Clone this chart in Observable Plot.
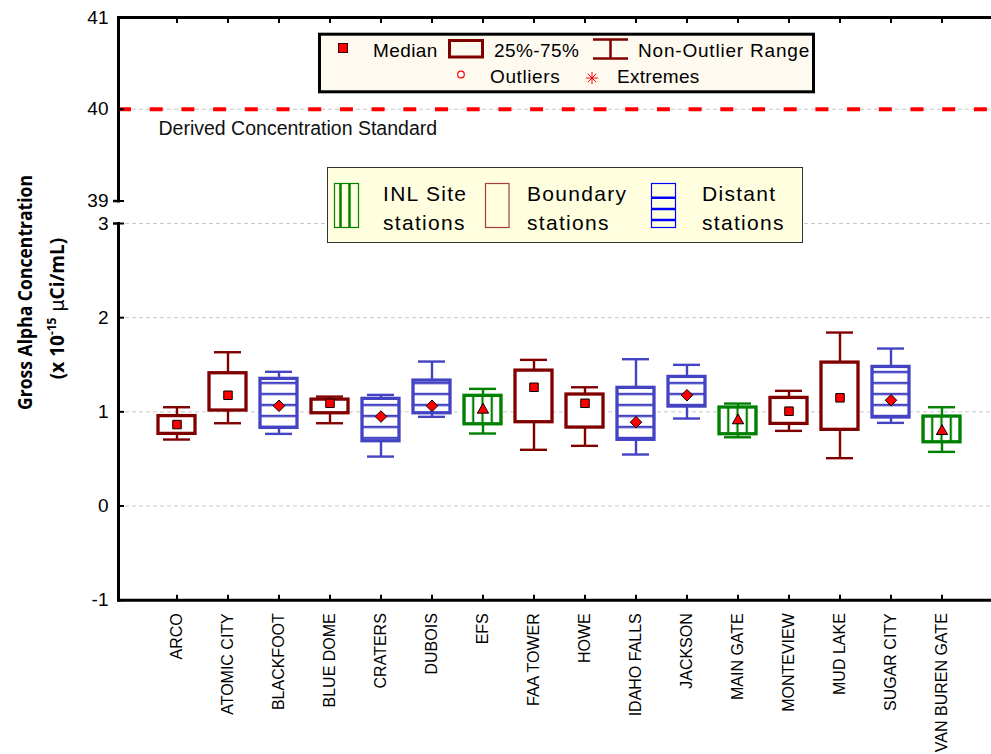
<!DOCTYPE html>
<html><head><meta charset="utf-8">
<script src="https://cdn.jsdelivr.net/npm/d3@7"></script>
<script src="https://cdn.jsdelivr.net/npm/@observablehq/plot@0.6"></script>
<style>
body{margin:0;background:#fff;}
#wrap{position:relative;width:991px;height:754px;overflow:hidden;font-family:"Liberation Sans",Arial,sans-serif;}
#wrap > svg{position:absolute;left:0;top:0;}
</style></head><body><div id="wrap"></div>
<script>
// ---- data ----
const stations = ["ARCO","ATOMIC CITY","BLACKFOOT","BLUE DOME","CRATERS","DUBOIS","EFS","FAA TOWER","HOWE","IDAHO FALLS","JACKSON","MAIN GATE","MONTEVIEW","MUD LAKE","SUGAR CITY","VAN BUREN GATE"];
const groups = ["Boundary","Boundary","Distant","Boundary","Distant","Distant","INL","Boundary","Boundary","Distant","Distant","INL","Boundary","Boundary","Distant","INL"];
const medians = [0.865,1.176,1.064,1.091,0.95,1.064,1.021,1.261,1.091,0.89,1.176,0.908,1.007,1.149,1.123,0.794];
const q1 = [0.766,1.014,0.83,0.985,0.688,0.985,0.868,0.89,0.833,0.703,1.056,0.762,0.872,0.809,0.94,0.677];
const q3 = [0.955,1.41,1.35,1.13,1.138,1.332,1.17,1.438,1.184,1.255,1.371,1.046,1.148,1.523,1.477,0.95];
const whiskerLow = [0.706,0.879,0.766,0.879,0.525,0.947,0.77,0.597,0.639,0.547,0.929,0.73,0.798,0.508,0.883,0.575];
const whiskerHigh = [1.049,1.633,1.425,1.162,1.18,1.534,1.244,1.552,1.261,1.559,1.499,1.088,1.223,1.842,1.672,1.049];
const standard = [{value:40, label:"Derived Concentration Standard"}];
const yTicksTop = [39,40,41];
const yTicksBottom = [-1,0,1,2,3];
const gridBottom = [0,1,2,3];
const gridTop = [40];

const groupColor = {Boundary:"#800000", Distant:"#4343C3", INL:"#008000"};
const groupSymbol = {Boundary:"square", Distant:"diamond2", INL:"triangle"};
const data = stations.map((s,i)=>({station:s, group:groups[i], median:medians[i], q1:q1[i], q3:q3[i], low:whiskerLow[i], high:whiskerHigh[i], color:groupColor[groups[i]]}));

const xScale = {type:"band", domain:stations, range:[118,1000], paddingInner:0.267, paddingOuter:0.6335};
const font = "Liberation Sans, Arial, sans-serif";
const intFmt = d => String(d);

const topPlot = Plot.plot({
  width:991, height:205, marginTop:17, marginBottom:4.5, marginLeft:118, marginRight:0,
  style:{background:"transparent", fontFamily:font, fontSize:"19px", overflow:"visible"},
  x:xScale, y:{domain:[39,41]}, color:{type:"identity"},
  marks:[
    Plot.ruleY(gridTop, {stroke:"#c8c8c8", strokeDasharray:"4,3"}),
    Plot.ruleY(standard, {y:"value", stroke:"#ff0000", strokeWidth:4, strokeDasharray:"13,18.7"}),
    Plot.text(standard, {y:"value", text:"label", frameAnchor:"left", textAnchor:"start", dx:40, dy:19, fontSize:19.5, fill:"#111"}),
    Plot.frame({anchor:"left", strokeWidth:3}),
    Plot.ruleY([41], {strokeWidth:3}),
    Plot.axisX({anchor:"top", tickSize:-5, tickFormat:()=>"", label:null, strokeWidth:2}),
    Plot.axisY({ticks:yTicksTop, tickFormat:intFmt, tickSize:-6, tickPadding:16, label:null, fontSize:19, strokeWidth:2}),
    Plot.axisY({ticks:[39], tickSize:5, tickFormat:()=>"", label:null, strokeWidth:2.5})
  ]
});

const bottomPlot = Plot.plot({
  width:991, height:754, marginTop:223, marginBottom:154.3, marginLeft:118, marginRight:0,
  style:{background:"transparent", fontFamily:font, fontSize:"19px", overflow:"visible"},
  x:xScale, y:{domain:[-1,3]}, color:{type:"identity"},
  marks:[
    Plot.ruleY(gridBottom, {stroke:"#c8c8c8", strokeDasharray:"4,3"}),
    Plot.frame({anchor:"left", strokeWidth:3}),
    Plot.ruleY([-1], {strokeWidth:3}),
    Plot.axisY({ticks:yTicksBottom, tickFormat:intFmt, tickSize:-6, tickPadding:16, label:null, fontSize:19, strokeWidth:2}),
    Plot.axisY({ticks:[3], tickSize:5, tickFormat:()=>"", label:null, strokeWidth:2.5}),
    Plot.axisX({anchor:"bottom", tickSize:-5, tickPadding:18, tickRotate:-90, label:null, fontSize:16, strokeWidth:2}),
    Plot.ruleX(data, {x:"station", y1:"low", y2:"high", stroke:"color", strokeWidth:2.4}),
    Plot.tickY(data, {x:"station", y:"low", stroke:"color", strokeWidth:2.4, insetLeft:5, insetRight:5}),
    Plot.tickY(data, {x:"station", y:"high", stroke:"color", strokeWidth:2.4, insetLeft:5, insetRight:5}),
    Plot.barY(data, {x:"station", y1:"q1", y2:"q3", fill:"white"}),
    Plot.barY(data.filter(d=>d.group==="Distant"), {x:"station", y1:"q1", y2:"q3", fill:"url(#hatchH)"}),
    Plot.barY(data.filter(d=>d.group==="INL"), {x:"station", y1:"q1", y2:"q3", fill:"url(#hatchV)"}),
    Plot.barY(data, {x:"station", y1:"q1", y2:"q3", fill:"none", stroke:"color", strokeWidth:3.3}),
    ...Object.keys(groupSymbol).map(g => Plot.dot(data.filter(d=>d.group===g), {x:"station", y:"median", symbol:groupSymbol[g], r: g==="Distant"?5.2:(g==="INL"?4.2:4.8), fill:"#ff0000", stroke:"#000", strokeWidth:1}))
  ]
});

d3.select(bottomPlot).insert("defs", ":first-child").html(`
  <pattern id="hatchH" patternUnits="userSpaceOnUse" x="0" y="7.8" width="20" height="11">
    <rect x="0" y="0" width="20" height="2.4" fill="${groupColor.Distant}"/>
  </pattern>
  <pattern id="hatchV" patternUnits="objectBoundingBox" patternContentUnits="objectBoundingBox" x="0" y="0" width="0.25" height="1">
    <rect x="-0.03" y="0" width="0.06" height="1" fill="${groupColor.INL}"/>
    <rect x="0.22" y="0" width="0.06" height="1" fill="${groupColor.INL}"/>
  </pattern>`);

const wrap = document.getElementById("wrap");
wrap.appendChild(topPlot);
wrap.appendChild(bottomPlot);

// legends and axis title overlay
const ns = "http://www.w3.org/2000/svg";
const over = document.createElementNS(ns, "svg");
over.setAttribute("width", 991); over.setAttribute("height", 754);
over.innerHTML = `
<g font-family="Liberation Sans, Arial, sans-serif" fill="#000">
  <rect x="319.5" y="34.2" width="494" height="57.6" fill="#FFFAF0" stroke="#000" stroke-width="3"/>
  <rect x="338.5" y="43.5" width="9" height="9" fill="#ff0000" stroke="#300" stroke-width="1"/>
  <text x="373" y="56.5" font-size="19" letter-spacing="0.4">Median</text>
  <rect x="449.5" y="40.5" width="33" height="16.5" fill="none" stroke="#800000" stroke-width="3"/>
  <text x="494" y="56.5" font-size="19" letter-spacing="0.4">25%-75%</text>
  <path d="M593,39.5H628M610.5,39.5V58.5M593,58.5H628" stroke="#800000" stroke-width="2.5" fill="none"/>
  <text x="638" y="56.5" font-size="19" letter-spacing="0.8">Non-Outlier Range</text>
  <circle cx="461" cy="74.5" r="3.3" fill="#fff" stroke="#ff0000" stroke-width="1.2"/>
  <text x="490" y="83.3" font-size="19" letter-spacing="0.6">Outliers</text>
  <path d="M592,72V84M586,78H598M587.8,73.8L596.2,82.2M596.2,73.8L587.8,82.2" stroke="#ff0000" stroke-width="1"/>
  <text x="617" y="83.3" font-size="19" letter-spacing="0.3">Extremes</text>

  <rect x="327.5" y="167.5" width="475" height="75" fill="#FFFFE0" stroke="#333" stroke-width="1"/>
  <rect x="334.5" y="183.5" width="24" height="44" fill="none" stroke="#008000" stroke-width="1.2"/>
  <path d="M340.5,183.5V227.5M349.5,183.5V227.5" stroke="#008000" stroke-width="2.5"/>
  <text x="383" y="201" font-size="21" letter-spacing="1.3">INL Site</text>
  <text x="383" y="230" font-size="21" letter-spacing="1.3">stations</text>
  <rect x="485.5" y="183.5" width="23.5" height="44" fill="none" stroke="#A83A3A" stroke-width="1.2"/>
  <text x="527" y="201" font-size="21" letter-spacing="1.3">Boundary</text>
  <text x="527" y="230" font-size="21" letter-spacing="1.3">stations</text>
  <rect x="651.5" y="183.5" width="24" height="44" fill="none" stroke="#0000ff" stroke-width="1.2"/>
  <path d="M651.5,197.7H675.5M651.5,209H675.5M651.5,220H675.5" stroke="#0000ff" stroke-width="2.5"/>
  <text x="702" y="201" font-size="21" letter-spacing="1.3">Distant</text>
  <text x="702" y="230" font-size="21" letter-spacing="1.3">stations</text>
</g>
<g font-family="Open Sans, Lato, sans-serif" font-weight="bold" fill="#000">
  <text transform="translate(31.5,292.5) rotate(-90)" text-anchor="middle" font-size="19" textLength="235" lengthAdjust="spacingAndGlyphs">Gross Alpha Concentration</text>
  <text transform="translate(64,308.5) rotate(-90)" text-anchor="middle" font-size="19">(x 10<tspan font-size="12" dy="-8">-15</tspan><tspan dy="8" font-weight="normal" font-family="DejaVu Sans, sans-serif"> µ</tspan>Ci/mL)</text>
</g>`;
wrap.appendChild(over);
</script></body></html>
